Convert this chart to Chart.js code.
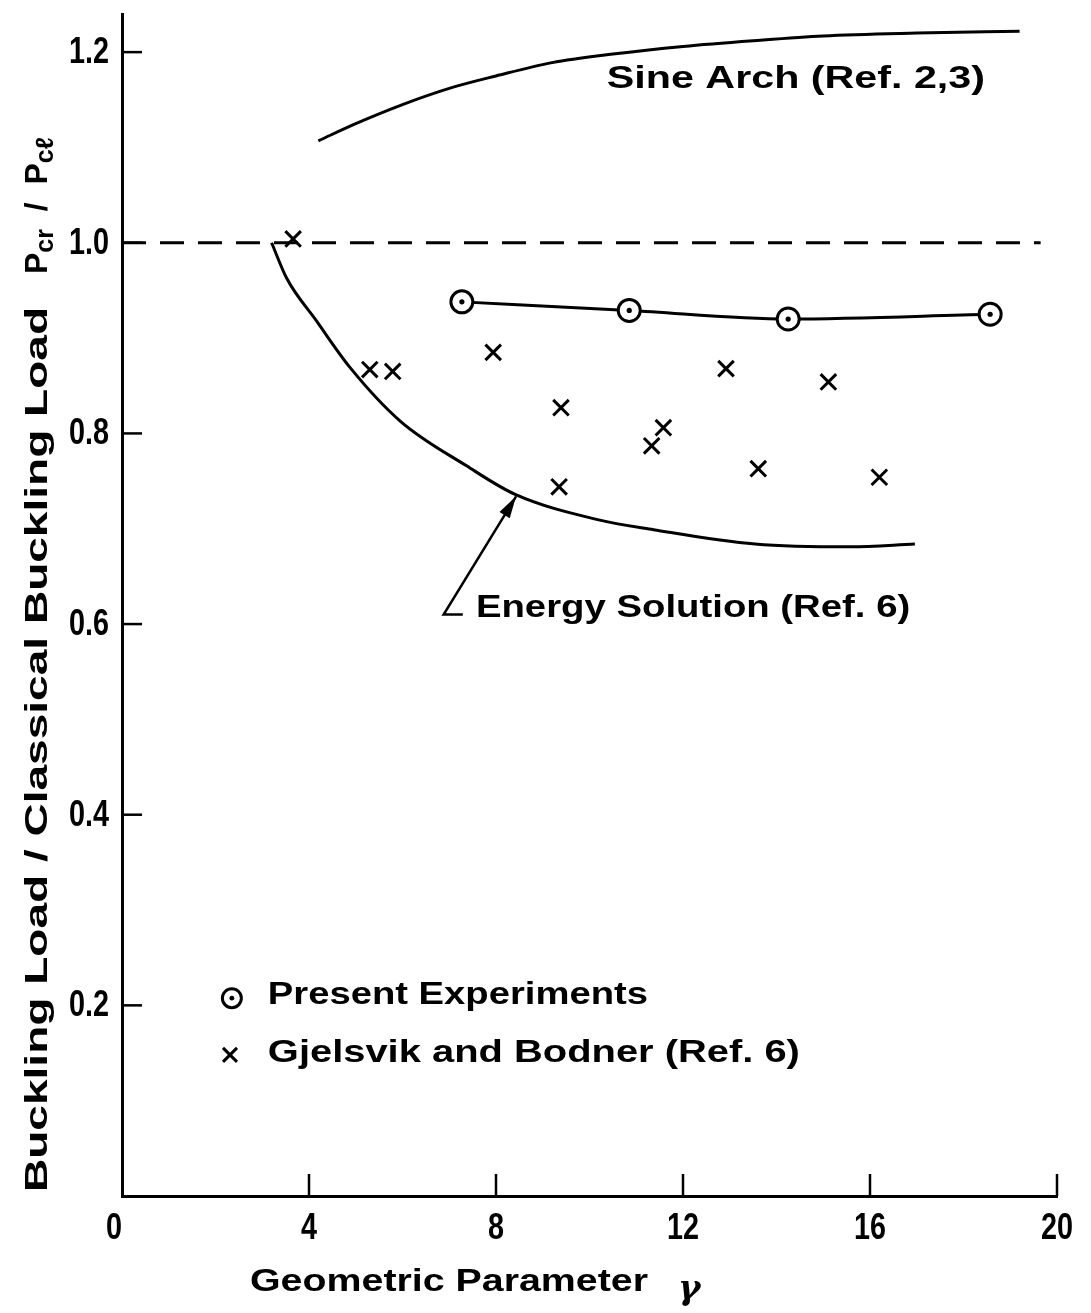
<!DOCTYPE html>
<html>
<head>
<meta charset="utf-8">
<script src="https://cdn.jsdelivr.net/npm/chart.js@4.4.0/dist/chart.umd.min.js"></script>
<style>
    html, body { margin: 0; padding: 0; background: #fff; }
    #wrap { position: relative; width: 1091px; height: 1313px; }
</style>
</head>
<body>
<div id="wrap"><canvas id="chart" width="1091" height="1313"></canvas></div>
<script>
// Axis ticks
const xTicks = [0, 4, 8, 12, 16, 20];
const yTicks = [0, 0.2, 0.4, 0.6, 0.8, 1.0, 1.2];
const xTickLabels = ['0', '4', '8', '12', '16', '20'];
const yTickLabels = ['', '0.2', '0.4', '0.6', '0.8', '1.0', '1.2'];

// Sine arch (Ref. 2,3)
const sineX = [4.2, 5.0, 6.0, 7.0, 8.0, 9.2, 10.5, 12.0, 13.5, 15.0, 17.0, 19.2];
const sineY = [1.107, 1.125, 1.145, 1.162, 1.175, 1.189, 1.198, 1.206, 1.212, 1.217, 1.220, 1.222];

// Classical load reference (dashed)
const classicalX = [0, 19.65];
const classicalY = [1.0, 1.0];

// Energy solution (Ref. 6)
const energyX = [3.2, 3.52, 4.16, 4.88, 5.95, 7.37, 8.41, 10.22, 11.37, 13.54, 15.57, 16.96];
const energyY = [1.0, 0.963, 0.918, 0.869, 0.813, 0.766, 0.736, 0.709, 0.699, 0.684, 0.681, 0.684];

// Present experiments
const presentX = [7.27, 10.85, 14.25, 18.57];
const presentY = [0.938, 0.929, 0.920, 0.925];

// Gjelsvik and Bodner (Ref. 6)
const gjelsvikX = [3.66, 5.30, 5.79, 7.94, 9.39, 9.35, 11.33, 11.58, 12.92, 13.61, 15.11, 16.20];
const gjelsvikY = [1.004, 0.867, 0.865, 0.885, 0.827, 0.744, 0.787, 0.806, 0.868, 0.763, 0.854, 0.754];

const FONT = "'Liberation Sans', Arial, sans-serif";

function toPoints(xs, ys) {
    return xs.map((x, i) => ({ x: x, y: ys[i] }));
}

// draw text squeezed/stretched to a given width
function fitText(ctx, text, x, y, width, font) {
    ctx.font = font;
    const w = ctx.measureText(text).width;
    ctx.save();
    ctx.translate(x, y);
    ctx.scale(width / w, 1);
    ctx.textAlign = 'left';
    ctx.textBaseline = 'middle';
    ctx.fillText(text, 0, 0);
    ctx.restore();
}

// narrow tick label; align = 'center' or 'right'
function tickText(ctx, text, x, y, align) {
    const sx = 0.8;
    ctx.font = `bold 36px ${FONT}`;
    ctx.save();
    ctx.translate(x, y);
    ctx.scale(sx, 1);
    ctx.textAlign = align;
    ctx.textBaseline = 'middle';
    ctx.fillText(text, 0, 0);
    ctx.restore();
}

// Inward tick marks, tick labels, annotations, legend and axis titles
const decorPlugin = {
    id: 'decor',
    afterDraw(chart) {
        const ctx = chart.ctx;
        const xs = chart.scales.x;
        const ys = chart.scales.y;
        const area = chart.chartArea;
        const px = v => xs.getPixelForValue(v);
        const py = v => ys.getPixelForValue(v);

        ctx.save();
        ctx.strokeStyle = '#000';
        ctx.fillStyle = '#000';
        ctx.lineWidth = 2.5;
        ctx.lineCap = 'butt';

        // ticks pointing into the plot
        xTicks.filter(v => v > 0).forEach(v => {
            ctx.beginPath();
            ctx.moveTo(px(v), area.bottom);
            ctx.lineTo(px(v), area.bottom - 22);
            ctx.stroke();
        });
        yTicks.filter(v => v > 0).forEach(v => {
            ctx.beginPath();
            ctx.moveTo(area.left, py(v));
            ctx.lineTo(area.left + 20, py(v));
            ctx.stroke();
        });

        // tick labels
        xTicks.forEach((v, i) => {
            const shift = v === 0 ? -8 : 0;
            tickText(ctx, xTickLabels[i], px(v) + shift, area.bottom + 33, 'center');
        });
        yTicks.forEach((v, i) => {
            tickText(ctx, yTickLabels[i], area.left - 13, py(v) + 1, 'right');
        });

        // curve labels
        const labelFont = `bold 32px ${FONT}`;
        fitText(ctx, 'Sine Arch (Ref. 2,3)', px(10.37), py(1.172), px(18.46) - px(10.37), labelFont);
        fitText(ctx, 'Energy Solution (Ref. 6)', px(7.57), py(0.617), px(16.86) - px(7.57), labelFont);

        // leader arrow to energy curve
        const tipX = px(8.43), tipY = py(0.734);
        const baseX = px(6.88), baseY = py(0.610);
        ctx.lineWidth = 2.5;
        ctx.beginPath();
        ctx.moveTo(px(7.29), baseY);
        ctx.lineTo(baseX, baseY);
        ctx.lineTo(tipX, tipY);
        ctx.stroke();
        const ang = Math.atan2(tipY - baseY, tipX - baseX);
        ctx.beginPath();
        ctx.moveTo(tipX, tipY);
        ctx.lineTo(tipX - 22 * Math.cos(ang) + 6 * Math.sin(ang), tipY - 22 * Math.sin(ang) - 6 * Math.cos(ang));
        ctx.lineTo(tipX - 22 * Math.cos(ang) - 6 * Math.sin(ang), tipY - 22 * Math.sin(ang) + 6 * Math.cos(ang));
        ctx.closePath();
        ctx.fill();

        // legend
        ctx.lineWidth = 3;
        ctx.beginPath();
        ctx.arc(px(2.35), py(0.2075), 9.5, 0, Math.PI * 2);
        ctx.stroke();
        ctx.beginPath();
        ctx.arc(px(2.35), py(0.2075), 2.4, 0, Math.PI * 2);
        ctx.fill();
        const cx = px(2.31), cy = py(0.148);
        ctx.beginPath();
        ctx.moveTo(cx - 7, cy - 7); ctx.lineTo(cx + 7, cy + 7);
        ctx.moveTo(cx + 7, cy - 7); ctx.lineTo(cx - 7, cy + 7);
        ctx.stroke();
        fitText(ctx, 'Present Experiments', px(3.12), py(0.211), px(11.25) - px(3.12), labelFont);
        fitText(ctx, 'Gjelsvik and Bodner (Ref. 6)', px(3.12), py(0.150), px(14.50) - px(3.12), labelFont);

        // x axis title
        fitText(ctx, 'Geometric Parameter', 250, 1282, 398, `bold 31px ${FONT}`);
        ctx.font = `italic bold 34px 'DejaVu Serif', serif`;
        ctx.textAlign = 'left';
        ctx.textBaseline = 'middle';
        ctx.fillText('γ', 678, 1290);

        // y axis title (rotated)
        ctx.save();
        ctx.translate(38, 1192);
        ctx.rotate(-Math.PI / 2);
        fitText(ctx, 'Buckling Load / Classical Buckling Load', 0, 0, 885, `bold 32px ${FONT}`);
        const big = `bold 32px ${FONT}`;
        const small = `bold 25px ${FONT}`;
        ctx.textAlign = 'left';
        ctx.textBaseline = 'middle';
        let u = 918;
        const piece = (t, f, dy) => {
            ctx.font = f;
            ctx.fillText(t, u, dy);
            u += ctx.measureText(t).width;
        };
        piece('P', big, 0);
        piece('cr', small, 8);
        piece('  /  ', big, 0);
        piece('P', big, 0);
        piece('cℓ', small, 8);
        ctx.restore();

        ctx.restore();
    }
};

const ctx = document.getElementById('chart').getContext('2d');
const chart = new Chart(ctx, {
    type: 'scatter',
    data: {
        datasets: [
            {
                label: 'dots',
                data: toPoints(presentX, presentY),
                pointRadius: 2.6,
                pointBackgroundColor: '#000',
                pointBorderWidth: 0,
                showLine: false
            },
            {
                label: 'Present Experiments',
                data: toPoints(presentX, presentY),
                showLine: true,
                borderColor: '#000',
                borderWidth: 3,
                cubicInterpolationMode: 'monotone',
                pointStyle: 'circle',
                pointRadius: 11,
                pointBorderWidth: 3,
                pointBorderColor: '#000',
                pointBackgroundColor: '#fff'
            },
            {
                label: 'Gjelsvik and Bodner (Ref. 6)',
                data: toPoints(gjelsvikX, gjelsvikY),
                showLine: false,
                pointStyle: 'crossRot',
                pointRadius: 11,
                pointBorderWidth: 3,
                pointBorderColor: '#000'
            },
            {
                label: 'Sine Arch (Ref. 2,3)',
                data: toPoints(sineX, sineY),
                showLine: true,
                borderColor: '#000',
                borderWidth: 3,
                cubicInterpolationMode: 'monotone',
                pointRadius: 0
            },
            {
                label: 'Energy Solution (Ref. 6)',
                data: toPoints(energyX, energyY),
                showLine: true,
                borderColor: '#000',
                borderWidth: 3,
                cubicInterpolationMode: 'monotone',
                pointRadius: 0
            },
            {
                label: 'Classical',
                data: toPoints(classicalX, classicalY),
                showLine: true,
                borderColor: '#000',
                borderWidth: 3,
                borderDash: [24, 14],
                pointRadius: 0
            }
        ]
    },
    options: {
        responsive: false,
        animation: false,
        devicePixelRatio: 1,
        layout: { padding: { top: 12, right: 34, left: 0, bottom: 0 } },
        plugins: {
            legend: { display: false },
            tooltip: { enabled: false }
        },
        scales: {
            x: {
                type: 'linear',
                min: 0,
                max: 20,
                afterBuildTicks: scale => { scale.ticks = xTicks.map(v => ({ value: v })); },
                afterFit: scale => {
                    scale.height = 117;
                    scale.paddingLeft = 0;
                    scale.paddingRight = 0;
                },
                grid: { display: false },
                border: { display: true, color: '#000', width: 3 },
                ticks: { display: false }
            },
            y: {
                type: 'linear',
                min: 0,
                max: 1.24,
                afterBuildTicks: scale => { scale.ticks = yTicks.map(v => ({ value: v })); },
                afterFit: scale => {
                    scale.width = 122;
                    scale.paddingTop = 0;
                    scale.paddingBottom = 0;
                },
                grid: { display: false },
                border: { display: true, color: '#000', width: 3 },
                ticks: { display: false }
            }
        }
    },
    plugins: [decorPlugin]
});
</script>
</body>
</html>
